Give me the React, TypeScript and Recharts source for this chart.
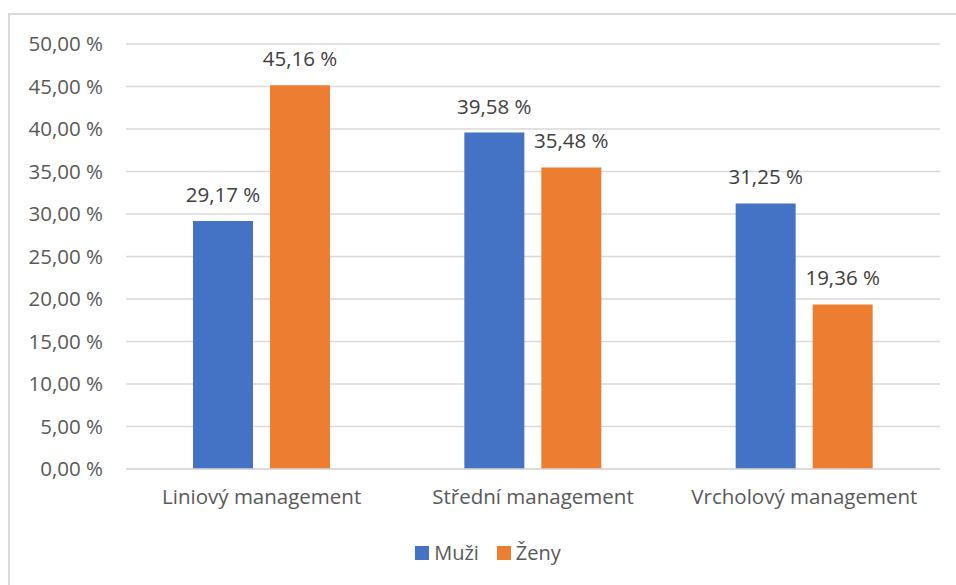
import React from 'react';
import { BarChart, Bar, XAxis, YAxis, CartesianGrid, Legend, LabelList } from 'recharts';

const categories = ['Liniový management', 'Střední management', 'Vrcholový management'];
const muzi = [29.17, 39.58, 31.25];
const zeny = [45.16, 35.48, 19.36];
const yTicks = [0, 5, 10, 15, 20, 25, 30, 35, 40, 45, 50];

const data = categories.map((name, i) => ({ name, Muži: muzi[i], Ženy: zeny[i] }));

const FONT = '"Open Sans", "Noto Sans", sans-serif';
const pct = (v: number) => v.toFixed(2).replace('.', ',') + ' %';

const renderLegend = (props: any) => (
  <div style={{ display: 'flex', justifyContent: 'center', paddingLeft: 36, fontFamily: FONT, fontSize: 20, color: '#595959', lineHeight: '24px' }}>
    {props.payload.map((p: any) => (
      <span key={p.value} style={{ display: 'inline-flex', alignItems: 'center', margin: '0 9px' }}>
        <span style={{ width: 14, height: 14, background: p.color, marginRight: 5 }} />
        {p.value}
      </span>
    ))}
  </div>
);

export default function App() {
  return (
    <div style={{ position: 'fixed', left: 0, top: 0, width: 956, height: 585, overflow: 'hidden', background: '#fff' }}>
      <div style={{ position: 'absolute', left: 8, top: 13, width: 960, height: 600, border: '2px solid #d9d9d9' }} />
      <div style={{ position: 'absolute', left: 0, top: 0 }}>
        <BarChart width={956} height={585} data={data} margin={{ top: 44, right: 16, bottom: 4, left: 0 }} barGap={17}>
          <CartesianGrid vertical={false} stroke="#d9d9d9" strokeWidth={1.5} />
          <XAxis
            dataKey="name"
            axisLine={{ stroke: '#d9d9d9', strokeWidth: 1.5 }}
            tickLine={false}
            tickSize={0}
            tickMargin={20}
            height={72}
            tick={{ fill: '#595959', fontSize: 20.5, fontFamily: FONT }}
          />
          <YAxis
            width={126}
            domain={[0, 50]}
            ticks={yTicks}
            axisLine={false}
            tickLine={false}
            tickSize={0}
            tickMargin={23}
            tickFormatter={pct}
            tick={{ fill: '#595959', fontSize: 20.5, fontFamily: FONT }}
          />
          <Legend verticalAlign="bottom" height={40} content={renderLegend} />
          <Bar dataKey="Muži" fill="#4472c4" barSize={60} isAnimationActive={false}>
            <LabelList dataKey="Muži" position="top" offset={19} formatter={(v: any) => pct(Number(v))} style={{ fill: '#404040', fontSize: 20.5, fontFamily: FONT }} />
          </Bar>
          <Bar dataKey="Ženy" fill="#ed7d31" barSize={60} isAnimationActive={false}>
            <LabelList dataKey="Ženy" position="top" offset={19} formatter={(v: any) => pct(Number(v))} style={{ fill: '#404040', fontSize: 20.5, fontFamily: FONT }} />
          </Bar>
        </BarChart>
      </div>
    </div>
  );
}
